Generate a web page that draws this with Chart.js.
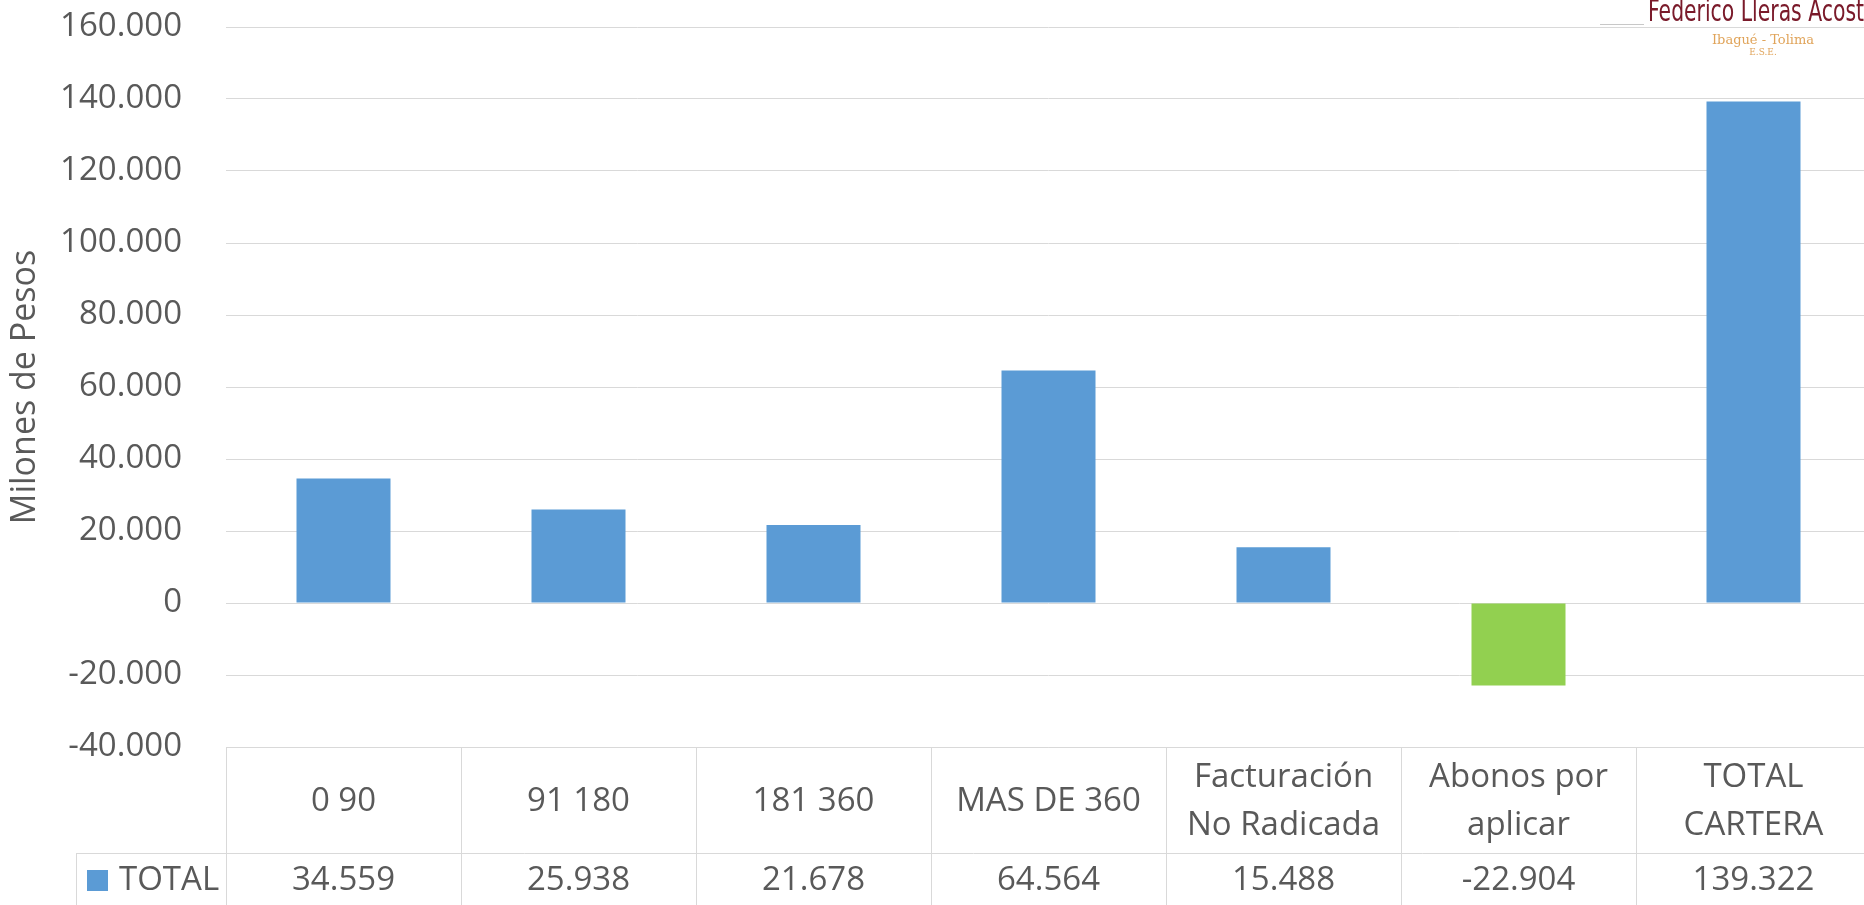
<!DOCTYPE html>
<html>
<head>
<meta charset="utf-8">
<script src="https://cdn.jsdelivr.net/npm/chart.js@4/dist/chart.umd.min.js"></script>
<style>
  html, body { margin:0; padding:0; background:#fff; overflow:hidden; }
  #caja { width:1871px; height:905px; }
</style>
</head>
<body>
<div id="caja"><canvas id="graficoCartera"></canvas></div>
<script>
// DATOS
const categorias = [["0 90"], ["91 180"], ["181 360"], ["MAS DE 360"], ["Facturación", "No Radicada"], ["Abonos por", "aplicar"], ["TOTAL", "CARTERA"]];
const valores = [34559, 25938, 21678, 64564, 15488, -22904, 139322];
const serie = "TOTAL";
const tituloY = "Milones de Pesos";

const AZUL = '#5b9bd5';
const VERDE = '#92d050';
const TEXTO = '#595959';
const LINEA = '#d9d9d9';
const FUENTE = '"Open Sans", sans-serif';

function formato(v){
    let s = Math.abs(v).toString().replace(/\B(?=(\d{3})+(?!\d))/g, '.');
    return (v < 0 ? '-' : '') + s;
}

// TABLA DE DATOS DEBAJO DEL EJE
const tablaPlugin = {
    id: 'tabla',
    afterDraw(chart){
        const ctx = chart.ctx;
        const x = chart.scales.x;
        const area = chart.chartArea;
        const ancho = (area.right - area.left) / categorias.length;
        const arriba = area.bottom;
        const fila = arriba + 106;
        const fondo = chart.height + 2;

        ctx.save();
        ctx.strokeStyle = LINEA;
        ctx.lineWidth = 1;
        ctx.beginPath();
        ctx.moveTo(area.left, arriba + 0.5); ctx.lineTo(chart.width, arriba + 0.5);
        ctx.moveTo(76, fila + 0.5); ctx.lineTo(chart.width, fila + 0.5);
        ctx.moveTo(76.5, fila); ctx.lineTo(76.5, fondo);
        for(let i = 0; i <= categorias.length; i++){
            let px = Math.round(x.getPixelForValue(i) - ancho / 2) + 0.5;
            ctx.moveTo(px, arriba); ctx.lineTo(px, fondo);
        }
        ctx.stroke();

        ctx.fillStyle = TEXTO;
        ctx.textAlign = 'center';
        ctx.textBaseline = 'middle';
        ctx.font = '33px ' + FUENTE;
        categorias.forEach((c, i) => {
            let cx = x.getPixelForValue(i);
            let y0 = (arriba + fila) / 2 + 2 - (c.length - 1) * 24;
            c.forEach((linea, j) => ctx.fillText(linea, cx, y0 + j * 48));
            ctx.fillText(formato(valores[i]), cx, fila + 28);
        });

        // leyenda
        ctx.fillStyle = AZUL;
        ctx.fillRect(87, fila + 17, 21, 21);
        ctx.fillStyle = TEXTO;
        ctx.textAlign = 'left';
        ctx.fillText(serie, 119, fila + 28);
        ctx.restore();
    }
};

// LOGO
const logoPlugin = {
    id: 'logo',
    afterDraw(chart){
        const ctx = chart.ctx;
        ctx.save();
        ctx.strokeStyle = '#c8c8c8';
        ctx.beginPath();
        ctx.moveTo(1600, 24.5); ctx.lineTo(1644, 24.5);
        ctx.stroke();

        ctx.font = '30px "DejaVu Sans", sans-serif';
        let w = ctx.measureText('Federico Lleras Acost').width;
        let g = ctx.createLinearGradient(1648, 0, 1864, 0);
        g.addColorStop(0, '#7a1a2a');
        g.addColorStop(1, '#d9534f');
        ctx.fillStyle = g;
        ctx.textBaseline = 'alphabetic';
        ctx.translate(1648, 21);
        ctx.scale(216 / w, 1);
        ctx.fillText('Federico Lleras Acosta', 0, 0);
        ctx.setTransform(1, 0, 0, 1, 0, 0);

        ctx.fillStyle = '#e0a45a';
        ctx.textAlign = 'center';
        ctx.textBaseline = 'middle';
        ctx.font = '13px "DejaVu Serif", serif';
        ctx.fillText('Ibagué - Tolima', 1763, 41);
        ctx.font = '9px "DejaVu Serif", serif';
        ctx.fillText('E.S.E.', 1763, 53);
        ctx.restore();
    }
};

new Chart(document.getElementById('graficoCartera'), {
    type: 'bar',
    data: {
        labels: categorias,
        datasets: [{
            label: serie,
            data: valores,
            backgroundColor: valores.map(v => v < 0 ? VERDE : AZUL),
            categoryPercentage: 1,
            barPercentage: 0.4
        }]
    },
    options: {
        responsive: true,
        maintainAspectRatio: false,
        animation: false,
        layout: { padding: { top: 27, right: 0, bottom: 158, left: 0 } },
        plugins: {
            legend: { display: false },
            tooltip: { enabled: false }
        },
        scales: {
            x: { display: false },
            y: {
                min: -40000,
                max: 160000,
                ticks: {
                    stepSize: 20000,
                    padding: 0,
                    color: TEXTO,
                    font: { family: FUENTE, size: 33 },
                    callback: v => formato(v)
                },
                grid: { color: LINEA, drawTicks: true, tickLength: 44, tickColor: 'rgba(0,0,0,0)' },
                border: { display: false },
                title: {
                    display: true,
                    text: tituloY,
                    color: TEXTO,
                    font: { family: FUENTE, size: 34 },
                    padding: { top: 5, bottom: 0 }
                },
                afterFit: s => { s.width = 226; }
            }
        }
    },
    plugins: [tablaPlugin, logoPlugin]
});
</script>
</body>
</html>
